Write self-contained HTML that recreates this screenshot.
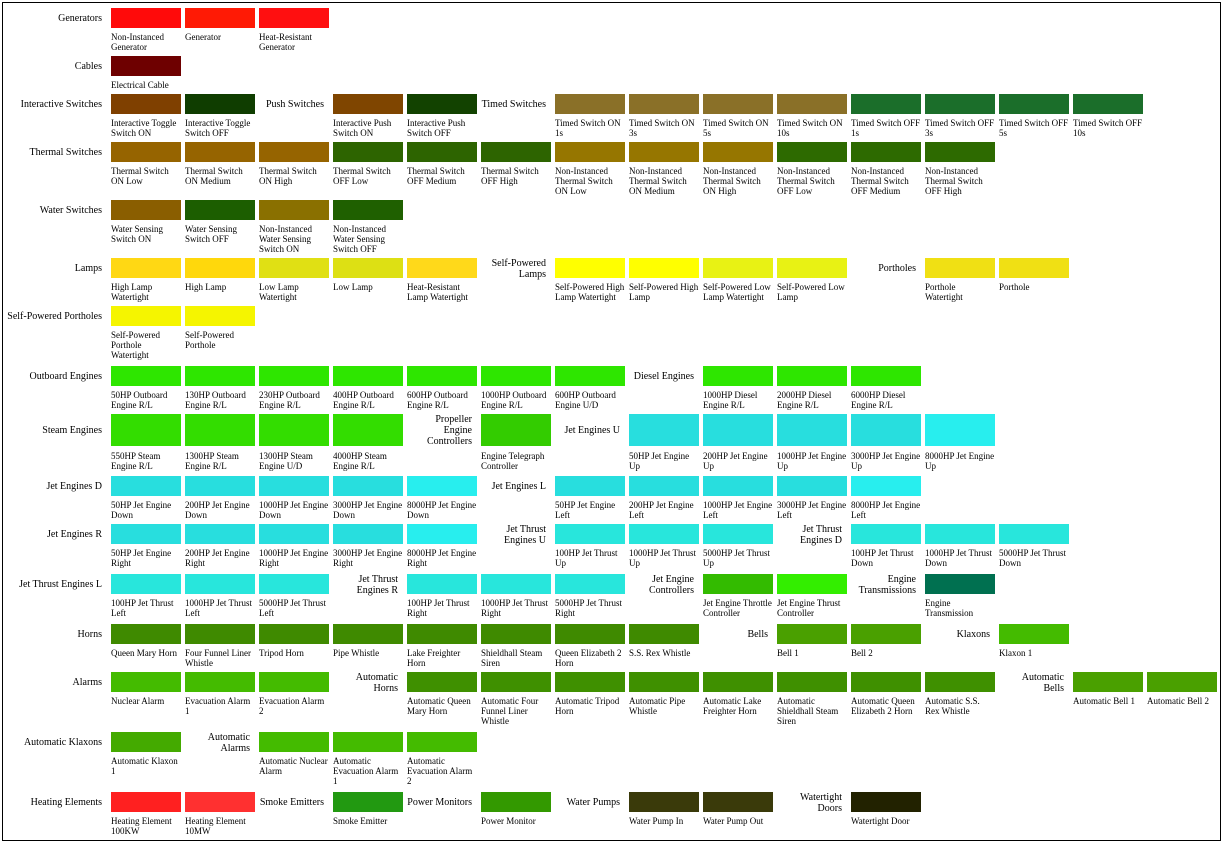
<!DOCTYPE html>
<html><head><meta charset="utf-8"><style>
body{margin:0;background:#fff;width:1224px;height:845px;position:relative;overflow:hidden;font-family:"Liberation Serif",serif;color:#000}
.f{position:absolute;left:2px;top:2px;width:1219px;height:839px;border:1px solid #000;box-sizing:border-box}
.i{position:absolute;width:73px;font-size:9px;line-height:10px}
.i b{display:block;width:70px;height:20px;margin-bottom:4px}
.t b{height:32px;margin-bottom:5px}
.c{position:absolute;width:65px;font-size:10px;line-height:11px;text-align:right;min-height:20px;display:flex;align-items:center;justify-content:flex-end}
.c0{left:0;width:102px}
</style></head><body><div class="f"></div>

<div class="c c0" style="top:8px">Generators</div>
<div class="i" style="left:111px;top:8px"><b style="background:#ff0a0a"></b>Non-Instanced<br>Generator</div>
<div class="i" style="left:185px;top:8px"><b style="background:#ff1a05"></b>Generator</div>
<div class="i" style="left:259px;top:8px"><b style="background:#ff0f10"></b>Heat-Resistant<br>Generator</div>

<div class="c c0" style="top:56px">Cables</div>
<div class="i" style="left:111px;top:56px"><b style="background:#6e0000"></b>Electrical Cable</div>

<div class="c c0" style="top:94px">Interactive Switches</div>
<div class="i" style="left:111px;top:94px"><b style="background:#7f4000"></b>Interactive Toggle<br>Switch ON</div>
<div class="i" style="left:185px;top:94px"><b style="background:#0f3d00"></b>Interactive Toggle<br>Switch OFF</div>
<div class="c" style="left:259px;top:94px">Push Switches</div>
<div class="i" style="left:333px;top:94px"><b style="background:#7f4500"></b>Interactive Push<br>Switch ON</div>
<div class="i" style="left:407px;top:94px"><b style="background:#124200"></b>Interactive Push<br>Switch OFF</div>
<div class="c" style="left:481px;top:94px">Timed Switches</div>
<div class="i" style="left:555px;top:94px"><b style="background:#8a7028"></b>Timed Switch ON<br>1s</div>
<div class="i" style="left:629px;top:94px"><b style="background:#8a7028"></b>Timed Switch ON<br>3s</div>
<div class="i" style="left:703px;top:94px"><b style="background:#8a7028"></b>Timed Switch ON<br>5s</div>
<div class="i" style="left:777px;top:94px"><b style="background:#8a7028"></b>Timed Switch ON<br>10s</div>
<div class="i" style="left:851px;top:94px"><b style="background:#1b6e2a"></b>Timed Switch OFF<br>1s</div>
<div class="i" style="left:925px;top:94px"><b style="background:#1b6e2a"></b>Timed Switch OFF<br>3s</div>
<div class="i" style="left:999px;top:94px"><b style="background:#1b6e2a"></b>Timed Switch OFF<br>5s</div>
<div class="i" style="left:1073px;top:94px"><b style="background:#1b6e2a"></b>Timed Switch OFF<br>10s</div>

<div class="c c0" style="top:142px">Thermal Switches</div>
<div class="i" style="left:111px;top:142px"><b style="background:#966400"></b>Thermal Switch<br>ON Low</div>
<div class="i" style="left:185px;top:142px"><b style="background:#966400"></b>Thermal Switch<br>ON Medium</div>
<div class="i" style="left:259px;top:142px"><b style="background:#966400"></b>Thermal Switch<br>ON High</div>
<div class="i" style="left:333px;top:142px"><b style="background:#2d6400"></b>Thermal Switch<br>OFF Low</div>
<div class="i" style="left:407px;top:142px"><b style="background:#2d6400"></b>Thermal Switch<br>OFF Medium</div>
<div class="i" style="left:481px;top:142px"><b style="background:#2d6400"></b>Thermal Switch<br>OFF High</div>
<div class="i" style="left:555px;top:142px"><b style="background:#967600"></b>Non-Instanced<br>Thermal Switch<br>ON Low</div>
<div class="i" style="left:629px;top:142px"><b style="background:#967600"></b>Non-Instanced<br>Thermal Switch<br>ON Medium</div>
<div class="i" style="left:703px;top:142px"><b style="background:#967600"></b>Non-Instanced<br>Thermal Switch<br>ON High</div>
<div class="i" style="left:777px;top:142px"><b style="background:#2d6a00"></b>Non-Instanced<br>Thermal Switch<br>OFF Low</div>
<div class="i" style="left:851px;top:142px"><b style="background:#2d6a00"></b>Non-Instanced<br>Thermal Switch<br>OFF Medium</div>
<div class="i" style="left:925px;top:142px"><b style="background:#2d6a00"></b>Non-Instanced<br>Thermal Switch<br>OFF High</div>

<div class="c c0" style="top:200px">Water Switches</div>
<div class="i" style="left:111px;top:200px"><b style="background:#8a5e00"></b>Water Sensing<br>Switch ON</div>
<div class="i" style="left:185px;top:200px"><b style="background:#1c5e00"></b>Water Sensing<br>Switch OFF</div>
<div class="i" style="left:259px;top:200px"><b style="background:#8a7000"></b>Non-Instanced<br>Water Sensing<br>Switch ON</div>
<div class="i" style="left:333px;top:200px"><b style="background:#1f6000"></b>Non-Instanced<br>Water Sensing<br>Switch OFF</div>

<div class="c c0" style="top:258px">Lamps</div>
<div class="i" style="left:111px;top:258px"><b style="background:#ffd814"></b>High Lamp<br>Watertight</div>
<div class="i" style="left:185px;top:258px"><b style="background:#ffd80c"></b>High Lamp</div>
<div class="i" style="left:259px;top:258px"><b style="background:#e0e014"></b>Low Lamp<br>Watertight</div>
<div class="i" style="left:333px;top:258px"><b style="background:#dde014"></b>Low Lamp</div>
<div class="i" style="left:407px;top:258px"><b style="background:#ffd91a"></b>Heat-Resistant<br>Lamp Watertight</div>
<div class="c" style="left:481px;top:258px">Self-Powered<br>Lamps</div>
<div class="i" style="left:555px;top:258px"><b style="background:#ffff00"></b>Self-Powered High<br>Lamp Watertight</div>
<div class="i" style="left:629px;top:258px"><b style="background:#ffff00"></b>Self-Powered High<br>Lamp</div>
<div class="i" style="left:703px;top:258px"><b style="background:#e8f214"></b>Self-Powered Low<br>Lamp Watertight</div>
<div class="i" style="left:777px;top:258px"><b style="background:#e8f214"></b>Self-Powered Low<br>Lamp</div>
<div class="c" style="left:851px;top:258px">Portholes</div>
<div class="i" style="left:925px;top:258px"><b style="background:#f0e014"></b>Porthole<br>Watertight</div>
<div class="i" style="left:999px;top:258px"><b style="background:#f0e014"></b>Porthole</div>

<div class="c c0" style="top:306px">Self-Powered Portholes</div>
<div class="i" style="left:111px;top:306px"><b style="background:#f5f500"></b>Self-Powered<br>Porthole<br>Watertight</div>
<div class="i" style="left:185px;top:306px"><b style="background:#f5f500"></b>Self-Powered<br>Porthole</div>

<div class="c c0" style="top:366px">Outboard Engines</div>
<div class="i" style="left:111px;top:366px"><b style="background:#2ee600"></b>50HP Outboard<br>Engine R/L</div>
<div class="i" style="left:185px;top:366px"><b style="background:#2ee600"></b>130HP Outboard<br>Engine R/L</div>
<div class="i" style="left:259px;top:366px"><b style="background:#2ee600"></b>230HP Outboard<br>Engine R/L</div>
<div class="i" style="left:333px;top:366px"><b style="background:#2ee600"></b>400HP Outboard<br>Engine R/L</div>
<div class="i" style="left:407px;top:366px"><b style="background:#2ee600"></b>600HP Outboard<br>Engine R/L</div>
<div class="i" style="left:481px;top:366px"><b style="background:#2ee600"></b>1000HP Outboard<br>Engine R/L</div>
<div class="i" style="left:555px;top:366px"><b style="background:#2ee600"></b>600HP Outboard<br>Engine U/D</div>
<div class="c" style="left:629px;top:366px">Diesel Engines</div>
<div class="i" style="left:703px;top:366px"><b style="background:#2ee600"></b>1000HP Diesel<br>Engine R/L</div>
<div class="i" style="left:777px;top:366px"><b style="background:#2ee600"></b>2000HP Diesel<br>Engine R/L</div>
<div class="i" style="left:851px;top:366px"><b style="background:#2ee600"></b>6000HP Diesel<br>Engine R/L</div>

<div class="c c0" style="top:414px;min-height:32px">Steam Engines</div>
<div class="i t" style="left:111px;top:414px"><b style="background:#33dd00"></b>550HP Steam<br>Engine R/L</div>
<div class="i t" style="left:185px;top:414px"><b style="background:#33dd00"></b>1300HP Steam<br>Engine R/L</div>
<div class="i t" style="left:259px;top:414px"><b style="background:#33dd00"></b>1300HP Steam<br>Engine U/D</div>
<div class="i t" style="left:333px;top:414px"><b style="background:#33dd00"></b>4000HP Steam<br>Engine R/L</div>
<div class="c" style="left:407px;top:414px">Propeller<br>Engine<br>Controllers</div>
<div class="i t" style="left:481px;top:414px"><b style="background:#33cc00"></b>Engine Telegraph<br>Controller</div>
<div class="c" style="left:555px;top:414px;min-height:32px">Jet Engines U</div>
<div class="i t" style="left:629px;top:414px"><b style="background:#28dede"></b>50HP Jet Engine<br>Up</div>
<div class="i t" style="left:703px;top:414px"><b style="background:#28dede"></b>200HP Jet Engine<br>Up</div>
<div class="i t" style="left:777px;top:414px"><b style="background:#28dede"></b>1000HP Jet Engine<br>Up</div>
<div class="i t" style="left:851px;top:414px"><b style="background:#28dede"></b>3000HP Jet Engine<br>Up</div>
<div class="i t" style="left:925px;top:414px"><b style="background:#28eeee"></b>8000HP Jet Engine<br>Up</div>

<div class="c c0" style="top:476px">Jet Engines D</div>
<div class="i" style="left:111px;top:476px"><b style="background:#28dede"></b>50HP Jet Engine<br>Down</div>
<div class="i" style="left:185px;top:476px"><b style="background:#28dede"></b>200HP Jet Engine<br>Down</div>
<div class="i" style="left:259px;top:476px"><b style="background:#28dede"></b>1000HP Jet Engine<br>Down</div>
<div class="i" style="left:333px;top:476px"><b style="background:#28dede"></b>3000HP Jet Engine<br>Down</div>
<div class="i" style="left:407px;top:476px"><b style="background:#28eeee"></b>8000HP Jet Engine<br>Down</div>
<div class="c" style="left:481px;top:476px">Jet Engines L</div>
<div class="i" style="left:555px;top:476px"><b style="background:#28dede"></b>50HP Jet Engine<br>Left</div>
<div class="i" style="left:629px;top:476px"><b style="background:#28dede"></b>200HP Jet Engine<br>Left</div>
<div class="i" style="left:703px;top:476px"><b style="background:#28dede"></b>1000HP Jet Engine<br>Left</div>
<div class="i" style="left:777px;top:476px"><b style="background:#28dede"></b>3000HP Jet Engine<br>Left</div>
<div class="i" style="left:851px;top:476px"><b style="background:#28eeee"></b>8000HP Jet Engine<br>Left</div>

<div class="c c0" style="top:524px">Jet Engines R</div>
<div class="i" style="left:111px;top:524px"><b style="background:#28dede"></b>50HP Jet Engine<br>Right</div>
<div class="i" style="left:185px;top:524px"><b style="background:#28dede"></b>200HP Jet Engine<br>Right</div>
<div class="i" style="left:259px;top:524px"><b style="background:#28dede"></b>1000HP Jet Engine<br>Right</div>
<div class="i" style="left:333px;top:524px"><b style="background:#28dede"></b>3000HP Jet Engine<br>Right</div>
<div class="i" style="left:407px;top:524px"><b style="background:#28eeee"></b>8000HP Jet Engine<br>Right</div>
<div class="c" style="left:481px;top:524px">Jet Thrust<br>Engines U</div>
<div class="i" style="left:555px;top:524px"><b style="background:#28e6dc"></b>100HP Jet Thrust<br>Up</div>
<div class="i" style="left:629px;top:524px"><b style="background:#28e6dc"></b>1000HP Jet Thrust<br>Up</div>
<div class="i" style="left:703px;top:524px"><b style="background:#28e6dc"></b>5000HP Jet Thrust<br>Up</div>
<div class="c" style="left:777px;top:524px">Jet Thrust<br>Engines D</div>
<div class="i" style="left:851px;top:524px"><b style="background:#28e6dc"></b>100HP Jet Thrust<br>Down</div>
<div class="i" style="left:925px;top:524px"><b style="background:#28e6dc"></b>1000HP Jet Thrust<br>Down</div>
<div class="i" style="left:999px;top:524px"><b style="background:#28e6dc"></b>5000HP Jet Thrust<br>Down</div>

<div class="c c0" style="top:574px">Jet Thrust Engines L</div>
<div class="i" style="left:111px;top:574px"><b style="background:#28e6dc"></b>100HP Jet Thrust<br>Left</div>
<div class="i" style="left:185px;top:574px"><b style="background:#28e6dc"></b>1000HP Jet Thrust<br>Left</div>
<div class="i" style="left:259px;top:574px"><b style="background:#28e6dc"></b>5000HP Jet Thrust<br>Left</div>
<div class="c" style="left:333px;top:574px">Jet Thrust<br>Engines R</div>
<div class="i" style="left:407px;top:574px"><b style="background:#28e6dc"></b>100HP Jet Thrust<br>Right</div>
<div class="i" style="left:481px;top:574px"><b style="background:#28e6dc"></b>1000HP Jet Thrust<br>Right</div>
<div class="i" style="left:555px;top:574px"><b style="background:#28e6dc"></b>5000HP Jet Thrust<br>Right</div>
<div class="c" style="left:629px;top:574px">Jet Engine<br>Controllers</div>
<div class="i" style="left:703px;top:574px"><b style="background:#33bb00"></b>Jet Engine Throttle<br>Controller</div>
<div class="i" style="left:777px;top:574px"><b style="background:#33ee00"></b>Jet Engine Thrust<br>Controller</div>
<div class="c" style="left:851px;top:574px">Engine<br>Transmissions</div>
<div class="i" style="left:925px;top:574px"><b style="background:#007050"></b>Engine<br>Transmission</div>

<div class="c c0" style="top:624px">Horns</div>
<div class="i" style="left:111px;top:624px"><b style="background:#3f8a00"></b>Queen Mary Horn</div>
<div class="i" style="left:185px;top:624px"><b style="background:#3f8a00"></b>Four Funnel Liner<br>Whistle</div>
<div class="i" style="left:259px;top:624px"><b style="background:#3f8a00"></b>Tripod Horn</div>
<div class="i" style="left:333px;top:624px"><b style="background:#3f8a00"></b>Pipe Whistle</div>
<div class="i" style="left:407px;top:624px"><b style="background:#3f8a00"></b>Lake Freighter<br>Horn</div>
<div class="i" style="left:481px;top:624px"><b style="background:#3f8a00"></b>Shieldhall Steam<br>Siren</div>
<div class="i" style="left:555px;top:624px"><b style="background:#3f8a00"></b>Queen Elizabeth 2<br>Horn</div>
<div class="i" style="left:629px;top:624px"><b style="background:#3f8a00"></b>S.S. Rex Whistle</div>
<div class="c" style="left:703px;top:624px">Bells</div>
<div class="i" style="left:777px;top:624px"><b style="background:#4aa000"></b>Bell 1</div>
<div class="i" style="left:851px;top:624px"><b style="background:#4aa000"></b>Bell 2</div>
<div class="c" style="left:925px;top:624px">Klaxons</div>
<div class="i" style="left:999px;top:624px"><b style="background:#44bb00"></b>Klaxon 1</div>

<div class="c c0" style="top:672px">Alarms</div>
<div class="i" style="left:111px;top:672px"><b style="background:#44bb00"></b>Nuclear Alarm</div>
<div class="i" style="left:185px;top:672px"><b style="background:#44bb00"></b>Evacuation Alarm<br>1</div>
<div class="i" style="left:259px;top:672px"><b style="background:#44bb00"></b>Evacuation Alarm<br>2</div>
<div class="c" style="left:333px;top:672px">Automatic<br>Horns</div>
<div class="i" style="left:407px;top:672px"><b style="background:#3f9000"></b>Automatic Queen<br>Mary Horn</div>
<div class="i" style="left:481px;top:672px"><b style="background:#3f9000"></b>Automatic Four<br>Funnel Liner<br>Whistle</div>
<div class="i" style="left:555px;top:672px"><b style="background:#3f9000"></b>Automatic Tripod<br>Horn</div>
<div class="i" style="left:629px;top:672px"><b style="background:#3f9000"></b>Automatic Pipe<br>Whistle</div>
<div class="i" style="left:703px;top:672px"><b style="background:#3f9000"></b>Automatic Lake<br>Freighter Horn</div>
<div class="i" style="left:777px;top:672px"><b style="background:#3f9000"></b>Automatic<br>Shieldhall Steam<br>Siren</div>
<div class="i" style="left:851px;top:672px"><b style="background:#3f9000"></b>Automatic Queen<br>Elizabeth 2 Horn</div>
<div class="i" style="left:925px;top:672px"><b style="background:#3f9000"></b>Automatic S.S.<br>Rex Whistle</div>
<div class="c" style="left:999px;top:672px">Automatic<br>Bells</div>
<div class="i" style="left:1073px;top:672px"><b style="background:#4aa000"></b>Automatic Bell 1</div>
<div class="i" style="left:1147px;top:672px"><b style="background:#4aa000"></b>Automatic Bell 2</div>

<div class="c c0" style="top:732px">Automatic Klaxons</div>
<div class="i" style="left:111px;top:732px"><b style="background:#44aa00"></b>Automatic Klaxon<br>1</div>
<div class="c" style="left:185px;top:732px">Automatic<br>Alarms</div>
<div class="i" style="left:259px;top:732px"><b style="background:#44bb00"></b>Automatic Nuclear<br>Alarm</div>
<div class="i" style="left:333px;top:732px"><b style="background:#44bb00"></b>Automatic<br>Evacuation Alarm<br>1</div>
<div class="i" style="left:407px;top:732px"><b style="background:#44bb00"></b>Automatic<br>Evacuation Alarm<br>2</div>

<div class="c c0" style="top:792px">Heating Elements</div>
<div class="i" style="left:111px;top:792px"><b style="background:#ff2020"></b>Heating Element<br>100KW</div>
<div class="i" style="left:185px;top:792px"><b style="background:#ff3030"></b>Heating Element<br>10MW</div>
<div class="c" style="left:259px;top:792px">Smoke Emitters</div>
<div class="i" style="left:333px;top:792px"><b style="background:#229911"></b>Smoke Emitter</div>
<div class="c" style="left:407px;top:792px">Power Monitors</div>
<div class="i" style="left:481px;top:792px"><b style="background:#339900"></b>Power Monitor</div>
<div class="c" style="left:555px;top:792px">Water Pumps</div>
<div class="i" style="left:629px;top:792px"><b style="background:#3a3a0a"></b>Water Pump In</div>
<div class="i" style="left:703px;top:792px"><b style="background:#3a3a0a"></b>Water Pump Out</div>
<div class="c" style="left:777px;top:792px">Watertight<br>Doors</div>
<div class="i" style="left:851px;top:792px"><b style="background:#222200"></b>Watertight Door</div>
</body></html>
